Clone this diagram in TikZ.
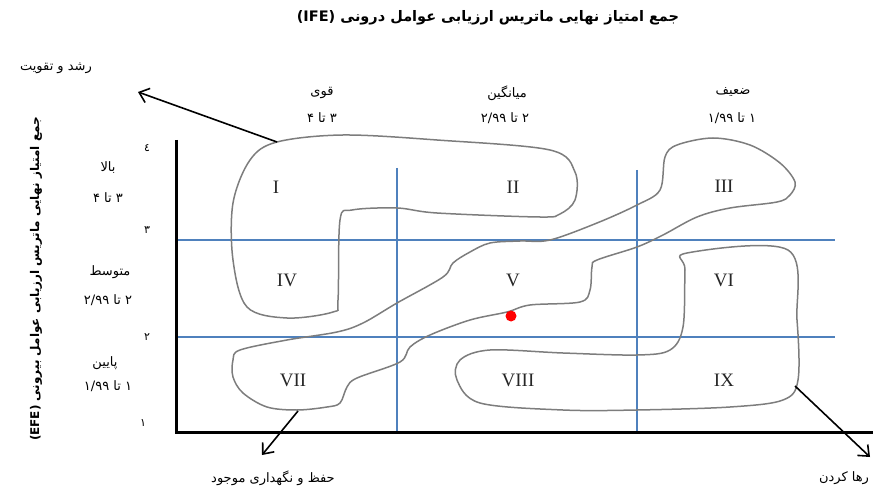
\documentclass[tikz,border=0pt]{standalone}
\usepackage{fontspec}
\setmainfont{Liberation Serif}
\newfontfamily\fa[Script=Arabic]{DejaVu Sans}
\TeXXeTstate=1
\usetikzlibrary{arrows.meta}
\definecolor{gridblue}{RGB}{79,129,189}
\definecolor{blobgray}{RGB}{125,125,125}

\begin{document}
\begin{tikzpicture}[x=1pt, y=-1pt, font=\fa\fontsize{13}{15}\selectfont,
    axis/.style={line width=3pt},
    grid/.style={draw=gridblue, line width=1.1pt},
    blob/.style={draw=blobgray, line width=1.5pt},
    arr/.style={line width=1.6pt, -{Straight Barb[length=9pt, width=15pt]}},
    cell/.style={font=\rmfamily\fontsize{19}{19}\selectfont, text=black!85},
    tick/.style={font=\fa\fontsize{11}{11}\selectfont}]
    \useasboundingbox (0,0) rectangle (875,489);

    \node[font=\fa\bfseries\fontsize{14.5}{16}\selectfont] (title) at (488,18) {\beginR جمع امتیاز نهایی ماتریس ارزیابی عوامل درونی \beginL(IFE)\endL\endR};
    \node[rotate=90, font=\fa\bfseries\fontsize{12}{14}\selectfont] (efe) at (36,279) {\beginR جمع امتیاز نهایی ماتریس ارزیابی عوامل بیرونی \beginL(EFE)\endL\endR};

    % columns
    \node (strong) at (322,93) {\beginR قوی\endR};
    \node (strongr) at (322,118) {\beginR ۳ تا ۴\endR};
    \node (average) at (507,93) {\beginR میانگین\endR};
    \node (averager) at (505,118) {\beginR ۲ تا \beginL۲/۹۹\endL\endR};
    \node (weak) at (733,92) {\beginR ضعیف\endR};
    \node (weakr) at (732,118) {\beginR ۱ تا \beginL۱/۹۹\endL\endR};

    % rows
    \node (high) at (108,168) {\beginR بالا\endR};
    \node (highr) at (108,198) {\beginR ۳ تا ۴\endR};
    \node (mid) at (110,272) {\beginR متوسط\endR};
    \node (midr) at (108,300) {\beginR ۲ تا \beginL۲/۹۹\endL\endR};
    \node (low) at (105,363) {\beginR پایین\endR};
    \node (lowr) at (108,386) {\beginR ۱ تا \beginL۱/۹۹\endL\endR};

    \node[tick] (t4) at (147,148) {٤};
    \node[tick] (t3) at (147,230) {۳};
    \node[tick] (t2) at (147,337) {۲};
    \node[tick] (t1) at (143,423) {۱};

    \node (grow) at (56,68) {\beginR رشد و تقویت\endR};
    \node (hold) at (273,478) {\beginR حفظ و نگهداری موجود\endR};
    \node (drop) at (844,478) {\beginR رها کردن\endR};

    % grid
    \draw[grid] (397,168) -- (397,432);
    \draw[grid] (637,170) -- (637,432);
    \draw[grid] (176,240) -- (835,240);
    \draw[grid] (176,337) -- (835,337);

    % groups
    \draw[blob] plot[smooth cycle, tension=0.55] coordinates {(277,142) (343,135) (437,140) (550,150) (575,172) (575,200) (560,214) (540,217) (437,213) (397,208) (352,210) (340,220) (338,300) (333,312) (287,318) (247,307) (233,260) (233,203) (250,160)};
    \draw[blob] plot[smooth cycle, tension=0.55] coordinates {(240,350) (287,340) (337,332) (363,323) (397,303) (443,277) (453,263) (470,252) (490,243) (520,241) (550,240) (597,223) (637,205) (660,190) (665,157) (677,145) (713,138) (750,145) (780,163) (795,182) (790,195) (777,202) (730,208) (697,217) (663,235) (637,247) (597,260) (592,267) (590,290) (580,302) (530,305) (507,312) (470,320) (430,335) (410,347) (400,362) (357,378) (347,387) (340,403) (327,407) (297,410) (267,407) (243,393) (233,377) (233,360)};
    \draw[blob] plot[smooth cycle, tension=0.55] coordinates {(687,253) (788,250) (797,320) (798,380) (783,400) (730,407) (637,410) (563,410) (480,403) (457,380) (460,360) (490,350) (563,353) (637,355) (670,350) (683,327) (685,270)};

    \node[cell] (c1) at (276,187) {I};
    \node[cell] (c2) at (513,187) {II};
    \node[cell] (c3) at (724,186) {III};
    \node[cell] (c4) at (287,280) {IV};
    \node[cell] (c5) at (513,280) {V};
    \node[cell] (c6) at (724,280) {VI};
    \node[cell] (c7) at (293,380) {VII};
    \node[cell] (c8) at (518,380) {VIII};
    \node[cell] (c9) at (724,380) {IX};

    \node[circle, fill=red, inner sep=0pt, minimum size=11pt] (pos) at (511,316) {};

    % axes
    \draw[axis] (176,140) -- (176,432) -- (873,432);

    % strategies
    \coordinate (growfrom) at (277,142);
    \coordinate (growto) at (138,92);
    \coordinate (holdfrom) at (298,411);
    \coordinate (holdto) at (262,455);
    \coordinate (dropfrom) at (795,386);
    \coordinate (dropto) at (870,457);
    \draw[arr] (growfrom) -- (growto);
    \draw[arr] (holdfrom) -- (holdto);
    \draw[arr] (dropfrom) -- (dropto);
\end{tikzpicture}
\end{document}
